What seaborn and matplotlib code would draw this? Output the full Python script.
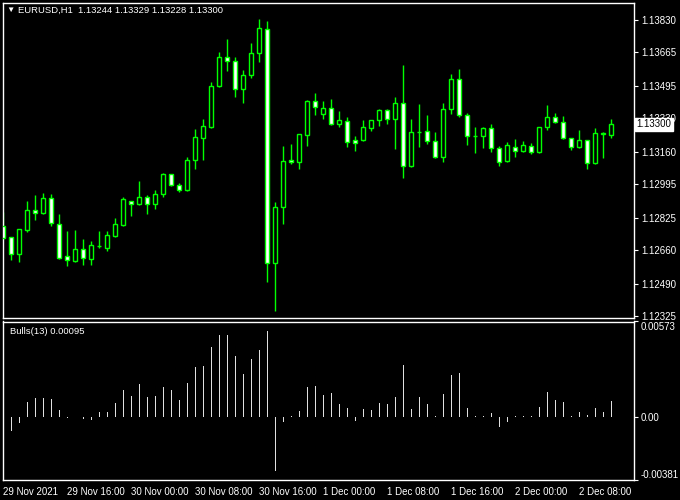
import numpy as np
import matplotlib
matplotlib.use('Agg')
import matplotlib.pyplot as plt
import matplotlib.transforms as mtransforms
import seaborn as sns

# EURUSD H1 candles (oldest first)
opens = [1.12782, 1.12726, 1.12640, 1.12762, 1.12863, 1.12848, 1.12924, 1.12792, 1.12630, 1.12604,
         1.12665, 1.12614, 1.12680, 1.12670, 1.12731, 1.12787, 1.12909, 1.12893, 1.12929, 1.12893,
         1.12944, 1.13046, 1.12990, 1.12965, 1.13117, 1.13229, 1.13284, 1.13492, 1.13640, 1.13624,
         1.13477, 1.13548, 1.13660, 1.13782, 1.12594, 1.12878, 1.13117, 1.13107, 1.13244, 1.13416,
         1.13350, 1.13381, 1.13300, 1.13315, 1.13218, 1.13218, 1.13279, 1.13320, 1.13371, 1.13325,
         1.13406, 1.13086, 1.13259, 1.13264, 1.13213, 1.13132, 1.13376, 1.13528, 1.13345, 1.13239,
         1.13239, 1.13279, 1.13178, 1.13112, 1.13183, 1.13163, 1.13188, 1.13157, 1.13284, 1.13335,
         1.13310, 1.13229, 1.13183, 1.13218, 1.13102, 1.13250, 1.13244]
highs = [1.12853, 1.12728, 1.12767, 1.12909, 1.12939, 1.12949, 1.12944, 1.12843, 1.12756, 1.12762,
         1.12716, 1.12706, 1.12756, 1.12756, 1.12822, 1.12929, 1.12911, 1.13010, 1.12939, 1.12965,
         1.13051, 1.13048, 1.13000, 1.13132, 1.13274, 1.13325, 1.13513, 1.13665, 1.13731, 1.13640,
         1.13574, 1.13711, 1.13833, 1.13827, 1.12904, 1.13188, 1.13198, 1.13251, 1.13421, 1.13457,
         1.13416, 1.13426, 1.13366, 1.13335, 1.13239, 1.13320, 1.13322, 1.13376, 1.13376, 1.13437,
         1.13599, 1.13325, 1.13401, 1.13345, 1.13259, 1.13406, 1.13558, 1.13579, 1.13355, 1.13284,
         1.13284, 1.13300, 1.13188, 1.13208, 1.13223, 1.13213, 1.13203, 1.13284, 1.13396, 1.13355,
         1.13340, 1.13231, 1.13269, 1.13220, 1.13279, 1.13259, 1.13329]
lows = [1.12716, 1.12609, 1.12599, 1.12751, 1.12812, 1.12845, 1.12782, 1.12614, 1.12579, 1.12599,
        1.12584, 1.12584, 1.12670, 1.12655, 1.12728, 1.12785, 1.12833, 1.12888, 1.12843, 1.12868,
        1.12929, 1.12988, 1.12954, 1.12960, 1.13071, 1.13117, 1.13279, 1.13487, 1.13569, 1.13437,
        1.13406, 1.13533, 1.13614, 1.12498, 1.12350, 1.12792, 1.13097, 1.13071, 1.13188, 1.13345,
        1.13325, 1.13298, 1.13284, 1.13183, 1.13163, 1.13216, 1.13264, 1.13289, 1.13300, 1.13173,
        1.13026, 1.13081, 1.13183, 1.13198, 1.13130, 1.13107, 1.13350, 1.13335, 1.13193, 1.13152,
        1.13178, 1.13157, 1.13086, 1.13110, 1.13132, 1.13161, 1.13147, 1.13155, 1.13269, 1.13308,
        1.13227, 1.13168, 1.13180, 1.13071, 1.13100, 1.13127, 1.13228]
closes = [1.12721, 1.12640, 1.12767, 1.12863, 1.12848, 1.12924, 1.12797, 1.12619, 1.12609, 1.12665,
          1.12619, 1.12685, 1.12680, 1.12736, 1.12792, 1.12919, 1.12893, 1.12929, 1.12893, 1.12944,
          1.13046, 1.12990, 1.12965, 1.13117, 1.13234, 1.13289, 1.13492, 1.13640, 1.13624, 1.13477,
          1.13548, 1.13660, 1.13787, 1.12594, 1.12878, 1.13112, 1.13107, 1.13249, 1.13416, 1.13386,
          1.13381, 1.13300, 1.13320, 1.13208, 1.13203, 1.13284, 1.13320, 1.13371, 1.13325, 1.13406,
          1.13086, 1.13259, 1.13259, 1.13213, 1.13132, 1.13376, 1.13528, 1.13345, 1.13239, 1.13239,
          1.13279, 1.13178, 1.13107, 1.13193, 1.13163, 1.13193, 1.13157, 1.13284, 1.13335, 1.13310,
          1.13229, 1.13183, 1.13218, 1.13102, 1.13254, 1.13254, 1.13300]

# Bulls Power (13)
bulls = [0.00010, -0.00086, -0.00037, 0.00088, 0.00112, 0.00112, 0.00106, 0.00039, -0.00010, 0.00000,
         -0.00015, -0.00022, 0.00028, 0.00028, 0.00082, 0.00160, 0.00124, 0.00197, 0.00118, 0.00124,
         0.00179, 0.00160, 0.00100, 0.00203, 0.00300, 0.00306, 0.00420, 0.00493, 0.00493, 0.00366,
         0.00257, 0.00348, 0.00402, 0.00517, -0.00328, -0.00031, 0.00005, 0.00034, 0.00179, 0.00185,
         0.00131, 0.00143, 0.00076, 0.00052, -0.00025, 0.00046, 0.00040, 0.00082, 0.00076, 0.00118,
         0.00312, 0.00046, 0.00118, 0.00076, 0.00006, 0.00137, 0.00252, 0.00264, 0.00052, 0.00005,
         0.00005, 0.00022, -0.00060, -0.00031, 0.00005, 0.00005, 0.00005, 0.00058, 0.00149, 0.00100,
         0.00088, 0.00006, 0.00028, 0.00010, 0.00052, 0.00028, 0.00095]

time_labels = ["29 Nov 2021", "29 Nov 16:00", "30 Nov 00:00", "30 Nov 08:00", "30 Nov 16:00",
               "1 Dec 00:00", "1 Dec 08:00", "1 Dec 16:00", "2 Dec 00:00", "2 Dec 08:00"]
price_ticks = [1.13830, 1.13665, 1.13495, 1.13330, 1.13160, 1.12995, 1.12825, 1.12660, 1.12490, 1.12325]
bulls_ticks = [0.00573, 0.0, -0.00381]
bulls_tick_labels = ["0.00573", "0.00", "-0.00381"]

GREEN = '#00ff00'

sns.set_theme(style='dark', rc={'axes.facecolor': 'black', 'figure.facecolor': 'black',
                                'axes.edgecolor': 'white', 'text.color': 'white',
                                'xtick.color': 'white', 'ytick.color': 'white'})
plt.rcParams['font.family'] = ['Liberation Sans', 'DejaVu Sans']

W, H = 680, 500
fig = plt.figure(figsize=(6.8, 5.0), dpi=100)

def px_axes(left, top, right, bottom):
    return fig.add_axes([left / W, 1 - bottom / H, (right - left) / W, (bottom - top) / H])

ax = px_axes(2.5, 2.5, 634, 318)
ax2 = px_axes(2.5, 321.5, 634, 480)

x = np.arange(len(opens))
o = np.array(opens)
c = np.array(closes)
xlim = (-0.1, 78.84)

# wicks then bodies
ax.vlines(x, lows, highs, color=GREEN, linewidth=1.0, zorder=2)
body_low = np.minimum(o, c)
body_h = np.maximum(np.abs(c - o), 0.00001)
fills = ['black' if cc > oo else ('white' if cc < oo else GREEN) for oo, cc in zip(o, c)]
ax.bar(x, body_h, bottom=body_low, width=0.5, color=fills, edgecolor=GREEN,
       linewidth=1.0, zorder=3)

ax.set_xlim(*xlim)
ax.set_ylim(1.12315, 1.13919)
ax.set_xticks([])
ax.yaxis.tick_right()
ax.set_yticks(price_ticks)
ax.set_yticklabels([f"{p:.5f}" for p in price_ticks])
ax.tick_params(axis='y', colors='white', length=3, width=0.8, pad=2, labelsize=7)

# current price box (sits over the 1.13330 label, as on the terminal)
trans = mtransforms.blended_transform_factory(ax.transAxes, ax.transData)
ax.text(1.004, closes[-1], f"{closes[-1]:.5f}", transform=trans, color='black', fontsize=7,
        va='center', ha='left', clip_on=False, zorder=5,
        bbox=dict(boxstyle='square,pad=0.18', facecolor='white', edgecolor='white'))

# indicator histogram
sns.barplot(x=x, y=bulls, native_scale=True, orient='x', width=0.13, color='#e0e0e0',
            saturation=1, linewidth=0, ax=ax2)
ax2.set_xlim(*xlim)
ax2.set_ylim(-0.00381, 0.00573)
ax2.set_xlabel('')
ax2.set_ylabel('')
ax2.yaxis.tick_right()
ax2.set_yticks(bulls_ticks)
ax2.set_yticklabels(bulls_tick_labels)
ax2.tick_params(axis='y', colors='white', length=3, width=0.8, pad=2, labelsize=7)
ylabs = ax2.get_yticklabels()
ylabs[0].set_va('top')
ylabs[2].set_va('bottom')
ax2.set_xticks(np.arange(0, len(opens), 8))
ax2.set_xticklabels(time_labels, ha='left')
ax2.tick_params(axis='x', colors='white', length=3, width=0.8, pad=2, labelsize=7)

for a in (ax, ax2):
    for s in a.spines.values():
        s.set_color('white')
        s.set_linewidth(1)
        s.set_visible(True)

fig.text(6 / W, 1 - 10.5 / H, '\u25bc', fontsize=6, color='white', va='center', ha='left')
fig.text(18 / W, 1 - 10.5 / H, 'EURUSD,H1  1.13244 1.13329 1.13228 1.13300', fontsize=6.8,
         color='white', va='center', ha='left')
ax2.text(7 / 631.5, 0.94, 'Bulls(13) 0.00095', transform=ax2.transAxes, fontsize=6.8,
         color='white', va='center', ha='left')

fig.savefig('out.png', dpi=100, facecolor='black')
